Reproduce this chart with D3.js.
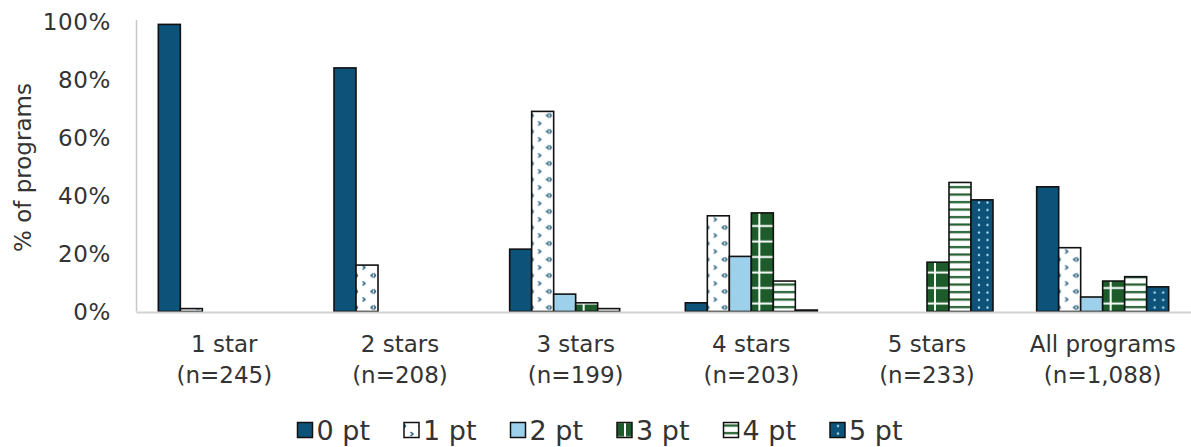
<!DOCTYPE html>
<html>
<head>
<meta charset="utf-8">
<script src="https://cdn.jsdelivr.net/npm/d3@7"></script>
<style>
  html, body { margin: 0; padding: 0; background: #fff; }
  svg { display: block; }
  text { font-family: "DejaVu Sans", Verdana, sans-serif; fill: #333; }
</style>
</head>
<body>
<svg id="chart" width="1191" height="447"></svg>
<script>
// Star rating groups and their sample sizes
const categories = ["1 star", "2 stars", "3 stars", "4 stars", "5 stars", "All programs"];
const sampleSizes = ["(n=245)", "(n=208)", "(n=199)", "(n=203)", "(n=233)", "(n=1,088)"];

// Share of programs (%) earning each point score, per rating group
const series = ["0 pt", "1 pt", "2 pt", "3 pt", "4 pt", "5 pt"];
const pt0 = [99, 84, 21.5, 3, 0, 43];
const pt1 = [1, 16, 69, 33, 0, 22];
const pt2 = [0, 0, 6, 19, 0, 5];
const pt3 = [0, 0, 3, 34, 17, 10.5];
const pt4 = [0, 0, 1, 10.5, 44.5, 12];
const pt5 = [0, 0, 0, 0.5, 38.5, 8.5];
const seriesValues = [pt0, pt1, pt2, pt3, pt4, pt5];

const yTicks = [0, 20, 40, 60, 80, 100];

const DARK_BLUE = "#0d5379";
const LIGHT_BLUE = "#9dd0ea";
const DARK_GREEN = "#1d5b2b";

const svg = d3.select("#chart");
const defs = svg.append("defs");

// --- fill patterns -------------------------------------------------------
// 1 pt: white with small blue chevrons
const p1 = defs.append("pattern").attr("id", "pat1")
  .attr("patternUnits", "userSpaceOnUse").attr("width", 18).attr("height", 16);
p1.append("rect").attr("width", 18).attr("height", 16).attr("fill", "#fff");
p1.append("path").attr("d", "M6.5,2 L9,4 L6.5,6").attr("fill", "none")
  .attr("stroke", "#245f80").attr("stroke-width", 1.5);
p1.append("path").attr("d", "M17.5,10 L15,12 L17.5,14").attr("fill", "none")
  .attr("stroke", "#245f80").attr("stroke-width", 1.5);
p1.append("path").attr("d", "M0,10 L1.5,12 L0,14").attr("fill", "none")
  .attr("stroke", "#245f80").attr("stroke-width", 1.5);

// 2 pt: plain light blue
// 3 pt: dark green with a white grid
const p3 = defs.append("pattern").attr("id", "pat3")
  .attr("patternUnits", "userSpaceOnUse").attr("width", 22).attr("height", 15.5);
p3.append("rect").attr("width", 22).attr("height", 15.5).attr("fill", DARK_GREEN);
p3.append("rect").attr("x", 0).attr("y", 6.5).attr("width", 22).attr("height", 2).attr("fill", "#fff");
p3.append("rect").attr("x", 7).attr("y", 0).attr("width", 2).attr("height", 15.5).attr("fill", "#fff");

// 4 pt: white with green horizontal stripes
const p4 = defs.append("pattern").attr("id", "pat4")
  .attr("patternUnits", "userSpaceOnUse").attr("width", 22).attr("height", 7.5);
p4.append("rect").attr("width", 22).attr("height", 7.5).attr("fill", "#fff");
p4.append("rect").attr("y", 2).attr("width", 22).attr("height", 2.2).attr("fill", DARK_GREEN);

// 5 pt: dark blue with light dots
const p5 = defs.append("pattern").attr("id", "pat5")
  .attr("patternUnits", "userSpaceOnUse").attr("width", 22).attr("height", 7.5);
p5.append("rect").attr("width", 22).attr("height", 7.5).attr("fill", DARK_BLUE);
p5.append("circle").attr("cx", 8).attr("cy", 3.5).attr("r", 1.2).attr("fill", "#b7e0f4");
p5.append("circle").attr("cx", 16.5).attr("cy", 3.5).attr("r", 1.2).attr("fill", "#b7e0f4");

const fills = [DARK_BLUE, "url(#pat1)", LIGHT_BLUE, "url(#pat3)", "url(#pat4)", "url(#pat5)"];

// --- scales ---------------------------------------------------------------
const plotLeft = 136.5, plotRight = 1190.5;
const plotTop = 21.5, plotBottom = 311.5;

const x0 = d3.scaleBand().domain(categories)
  .range([plotLeft, plotRight]).paddingInner(0.2486).paddingOuter(0.1243);
const x1 = d3.scaleBand().domain(series).range([0, x0.bandwidth()]);
const y = d3.scaleLinear().domain([0, 100]).range([plotBottom, plotTop]);

// --- axes -----------------------------------------------------------------
const yAxis = d3.axisLeft(y).tickValues(yTicks).tickSize(0).tickPadding(0)
  .tickFormat(d => d + "%");
const yG = svg.append("g").attr("transform", `translate(111,0)`).call(yAxis);
yG.select(".domain").remove();
yG.selectAll("text").attr("font-size", 23).attr("fill", "#333")
  .attr("letter-spacing", 0.6)
  .attr("font-family", '"DejaVu Sans", Verdana, sans-serif').attr("dy", "0.36em");

// vertical axis line
svg.append("line").attr("x1", plotLeft).attr("x2", plotLeft)
  .attr("y1", y(100) - 1.5).attr("y2", y(0))
  .attr("stroke", "#c8c8c8").attr("stroke-width", 1.5);

// y-axis title
svg.append("text").attr("transform", `translate(23,${(y(0) + y(100)) / 2 + 1}) rotate(-90)`)
  .attr("text-anchor", "middle").attr("dominant-baseline", "central")
  .attr("font-size", 23).text("% of programs");

// --- bars -----------------------------------------------------------------
const groups = svg.append("g").selectAll("g.cat")
  .data(categories).join("g").attr("class", "cat")
  .attr("transform", d => `translate(${x0(d)},0)`);

groups.each(function (cat, ci) {
  const g = d3.select(this);
  series.forEach((s, si) => {
    const v = seriesValues[si][ci];
    if (v <= 0) return;
    const h = y(0) - y(v);
    // each bar is drawn in its own local frame so the pattern tiles start at its left edge/baseline
    g.append("g").attr("transform", `translate(${x1(s)},${y(0)})`)
      .append("rect")
      .attr("x", 0).attr("y", -h)
      .attr("width", x1.bandwidth()).attr("height", h)
      .attr("fill", fills[si])
      .attr("stroke", "#111").attr("stroke-width", 1.6);
  });
});

// baseline
svg.append("line").attr("x1", plotLeft).attr("x2", 1191)
  .attr("y1", y(0) + 1).attr("y2", y(0) + 1)
  .attr("stroke", "#d2d2d2").attr("stroke-width", 2);

// --- category labels --------------------------------------------------------
const catLabels = svg.append("g").selectAll("text")
  .data(categories).join("text")
  .attr("text-anchor", "middle").attr("font-size", 23)
  .attr("x", d => x0(d) + x0.bandwidth() / 2);
catLabels.append("tspan").attr("y", 352).text(d => d)
  .attr("x", d => x0(d) + x0.bandwidth() / 2);
catLabels.append("tspan").attr("y", 383).text((d, i) => sampleSizes[i])
  .attr("x", d => x0(d) + x0.bandwidth() / 2);

// --- legend ----------------------------------------------------------------
const legend = svg.append("g");
const sw = 15, swGap = 4, itemGap = 34;
const items = legend.selectAll("g").data(series).join("g");
items.append("rect").attr("width", sw).attr("height", sw).attr("y", -sw / 2)
  .attr("fill", (d, i) => fills[i]).attr("stroke", "#111").attr("stroke-width", 1.5);
items.append("text").attr("x", sw + swGap).attr("y", 10)
  .attr("font-size", 27).text(d => d);
let lx = 0;
const offsets = [];
items.each(function () {
  offsets.push(lx);
  const w = d3.select(this).select("text").node().getComputedTextLength();
  lx += sw + swGap + w + itemGap;
});
const totalW = lx - itemGap;
const legendX = 600 - totalW / 2;
items.attr("transform", (d, i) => `translate(${legendX + offsets[i]},430)`);
</script>
</body>
</html>
